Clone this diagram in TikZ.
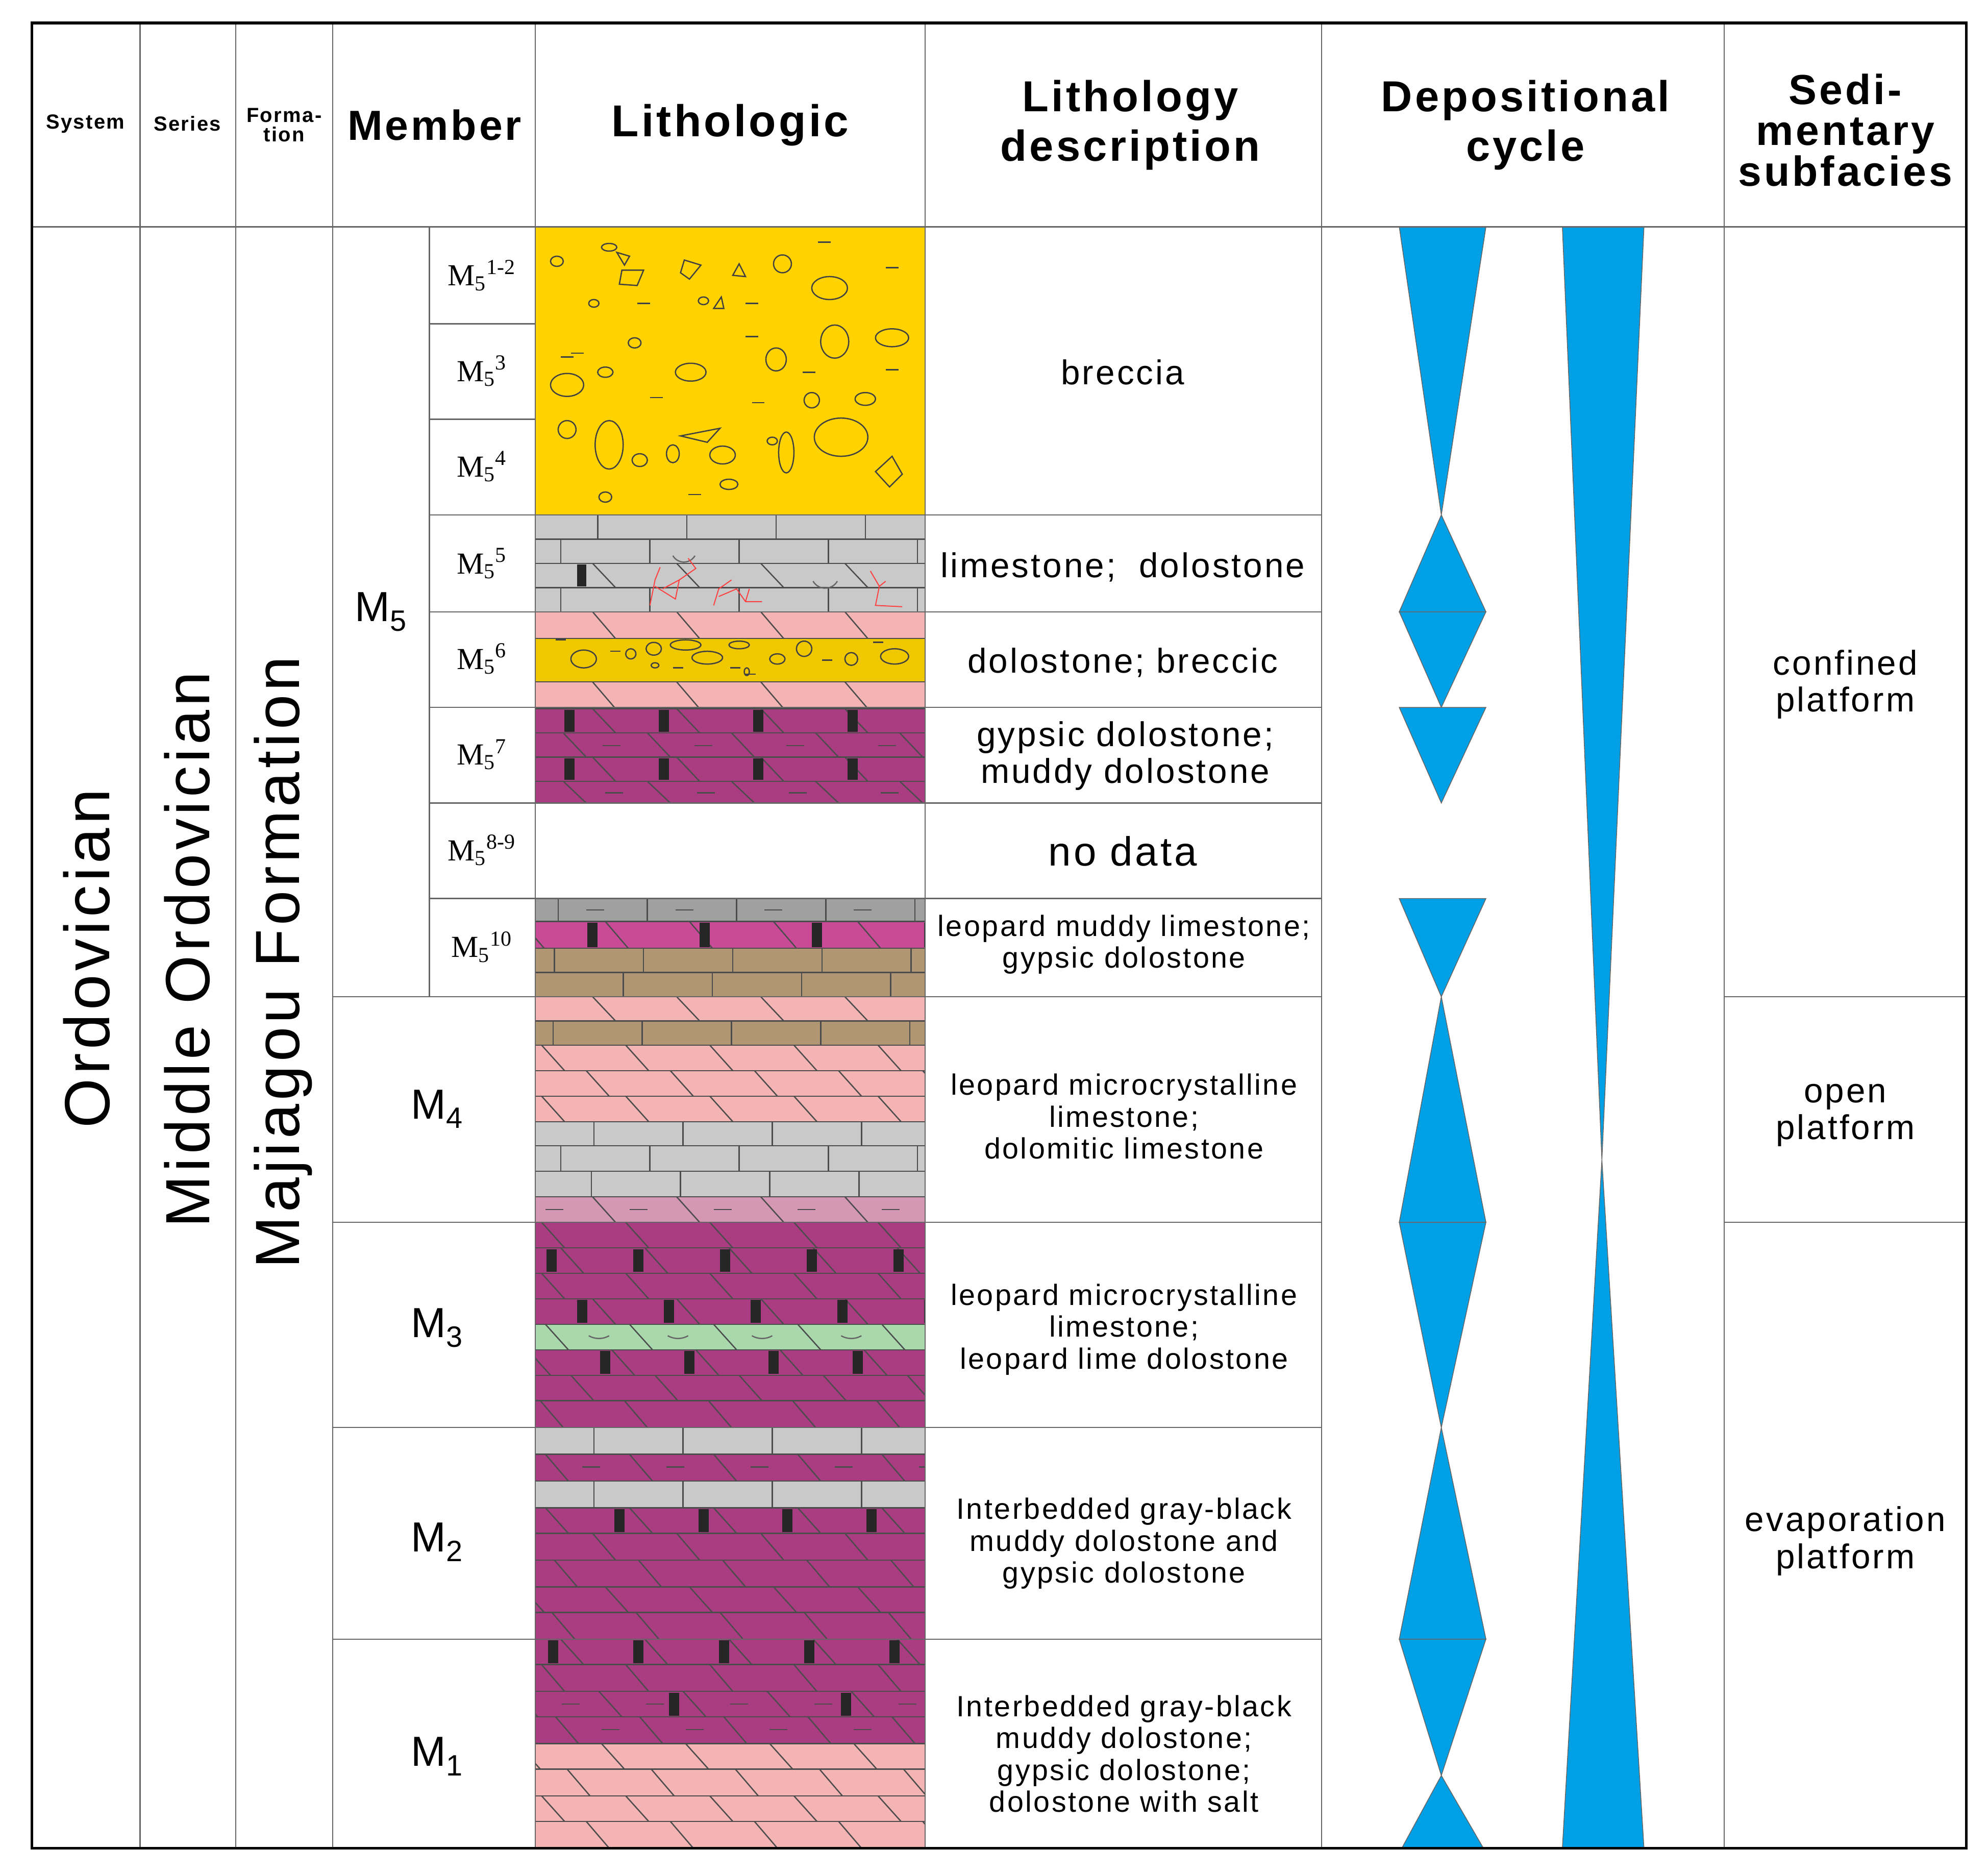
\documentclass[tikz,border=0pt]{standalone}
\usepackage{fontspec}
\setmainfont{Liberation Sans}[LetterSpace=6]
\newfontfamily\serf{Liberation Serif}
\usetikzlibrary{calc}
\definecolor{blu}{HTML}{00A0E6}
\definecolor{yel}{HTML}{FFD200}
\definecolor{yel2}{HTML}{F0C800}
\definecolor{mag}{HTML}{AA3C82}
\definecolor{mag2}{HTML}{C94A96}
\definecolor{pnk}{HTML}{F4B4B4}
\definecolor{gry}{HTML}{C9C9C9}
\definecolor{dgry}{HTML}{A0A0A0}
\definecolor{tan}{HTML}{B09672}
\definecolor{mauv}{HTML}{D498B4}
\definecolor{grn}{HTML}{A8D8AC}
\newcommand\fs[1]{\fontsize{#1}{\the\numexpr#1*6/5\relax}\selectfont}
\newcommand\Lrow[4]{\fill[#3] (420,#1) rectangle (726,#2);
 \begin{scope}\clip (420,#1) rectangle (726,#2);
 \foreach \k [evaluate=\k as \xx using 420+#4+70*\k] in {-1,...,5}{\draw[lit] (\xx,#1)--(\xx,#2);}
 \end{scope}\draw[lit] (420,#1)--(726,#1) (420,#2)--(726,#2);}
\newcommand\Drow[4]{\fill[#3] (420,#1) rectangle (726,#2);
 \begin{scope}\clip (420,#1) rectangle (726,#2);
 \foreach \k [evaluate=\k as \xx using 420+#4+66*\k] in {-1,...,5}{\draw[lit] (\xx,#1)--(\xx+18,#2);}
 \end{scope}\draw[lit] (420,#1)--(726,#1) (420,#2)--(726,#2);}
\newcommand\Marks[4]{\begin{scope}\clip (420,#1) rectangle (726,#2);
 \foreach \k [evaluate=\k as \xx using 420+#3+#4*\k] in {0,...,5}{\fill[black!85] (\xx-4,#1+1) rectangle (\xx+4,#2-1);}\end{scope}}
\newcommand\Dash[3]{\begin{scope}\clip (420,#1-10) rectangle (726,#1+10);
 \foreach \k [evaluate=\k as \xx using 420+#2+#3*\k] in {0,...,5}{\draw[lit] (\xx-7,#1)--(\xx+7,#1);}\end{scope}}
\newcommand\Msub[1]{{\serf M}\textsubscript{\serf 5}\textsuperscript{\serf #1}}
\tikzset{lit/.style={draw=black!70,line width=1pt},
 grid/.style={draw=black!60,line width=1pt},
 cyc/.style={fill=blu,draw=black!60,line width=0.6pt},
 cl/.style={draw=black!75,line width=1pt},
 hd/.style={font=\bfseries,align=center},
 ds/.style={align=center,font=\fs{23}}}
\begin{document}
\begin{tikzpicture}[x=1pt,y=-1pt]
\useasboundingbox (0,0) rectangle (1560,1470);
\fill[white] (0,0) rectangle (1560,1470);
% ---------- breccia
\fill[yel] (420,178) rectangle (726,404);
\foreach \x/\y/\a/\b in {437/205/5/4,478/194/6/3,614/207/7/7,651/226/14/9,445/302/13/9,475/292/6/4,498/269/5/4,542/292/12/7,609/282/8/9,655/268/11/13,700/265/13/7,445/337/7/7,478/349/11/19,502/361/6/5,528/356/5/7,567/357/10/7,617/355/6/16,660/343/21/15,637/314/6/6,679/313/8/5,572/380/7/4,475/390/5/4,552/236/4/3,606/346/4/3,466/238/4/3}
 \draw[cl] (\x,\y) ellipse[x radius=\a,y radius=\b];
\draw[cl] (488,212)--(505,212)--(500,224)--(486,223)--cycle;
\draw[cl] (537,204)--(550,208)--(541,219)--(534,214)--cycle;
\draw[cl] (575,216)--(580,207)--(585,217)--cycle;
\draw[cl] (560,242)--(566,233)--(568,242)--cycle;
\draw[cl] (687,370)--(700,358)--(708,372)--(698,382)--cycle;
\draw[cl] (534,342)--(565,336)--(555,347)--cycle;
\draw[cl] (484,198)--(494,201)--(490,208)--cycle;
\foreach \x/\y in {647/190,700/210,505/238,590/238,453/277,515/312,595/316,635/292,700/290,545/388,590/264,445/280}
 \draw[cl] (\x-5,\y)--(\x+5,\y);
% ---------- M5 layers
\Lrow{404}{423}{gry}{49}
\Lrow{423}{442}{gry}{20}
\Drow{442}{461}{gry}{45}
\Lrow{461}{480}{gry}{20}
\fill[black!85] (453,443) rectangle (460,460);
\draw[lit,black!60] (528,436) arc[start angle=150,end angle=30,radius=10];
\draw[lit,black!60] (638,456) arc[start angle=150,end angle=30,radius=11];
\draw[red!75,line width=0.8pt] (510,475)--(514,455)--(518,445) (514,460)--(530,470)--(533,455)--(520,462) (533,455)--(546,446)--(540,438);
\draw[red!75,line width=0.8pt] (560,475)--(564,462)--(574,455) (564,468)--(578,462)--(585,472)--(598,472) (585,472)--(588,462);
\draw[red!75,line width=0.8pt] (683,448)--(690,460)--(687,475)--(708,476) (690,460)--(695,456);
\Drow{480}{501}{pnk}{45}
\fill[yel2] (420,501) rectangle (726,535);\draw[lit] (420,501)--(726,501)(420,535)--(726,535);
\foreach \x/\y/\a/\b in {458/517/10/7,495/513/4/4,513/509/6/5,538/506/12/4,555/516/12/5,580/506/8/3,610/517/6/4,631/509/6/6,668/517/5/5,702/515/11/6,514/522/3/2,586/527/2/3}
 \draw[cl] (\x,\y) ellipse[x radius=\a,y radius=\b];
\foreach \x/\y in {440/502,483/511,532/524,577/524,589/529,649/518,689/504}
 \draw[cl] (\x-4,\y)--(\x+4,\y);
\Drow{535}{556}{pnk}{45}
\Drow{556}{575}{mag}{45}\Marks{556}{575}{27}{74}
\Drow{575}{594}{mag}{22}\Dash{585}{60}{72}
\Drow{594}{613}{mag}{45}\Marks{594}{613}{27}{74}
\Drow{613}{630}{mag}{22}\Dash{622}{62}{72}
\Lrow{705}{723}{dgry}{18}\Dash{714}{47}{70}
\Drow{723}{744}{mag2}{55}\Marks{723}{744}{45}{88}
\Lrow{744}{763}{tan}{15}
\Lrow{763}{782}{tan}{69}
% ---------- M4
\Drow{782}{801}{pnk}{45}
\Lrow{801}{820}{tan}{14}
\Drow{820}{840}{pnk}{5}
\Drow{840}{860}{pnk}{40}
\Drow{860}{880}{pnk}{5}
\Lrow{880}{899}{gry}{46}
\Lrow{899}{919}{gry}{20}
\Lrow{919}{939}{gry}{44}
\Drow{939}{959}{mauv}{45}\Dash{949}{15}{66}
% ---------- M3
\Drow{959}{979}{mag}{5}
\Drow{979}{999}{mag}{20}\Marks{979}{999}{13}{68}
\Drow{999}{1019}{mag}{5}
\Drow{1019}{1039}{mag}{45}\Marks{1019}{1039}{37}{68}
\Drow{1039}{1059}{grn}{8}
\foreach \xx in {470,532,598,668}{\draw[lit,black!60] (\xx-8,1048) arc[start angle=120,end angle=60,radius=16];}
\Drow{1059}{1079}{mag}{60}\Marks{1059}{1079}{55}{66}
\Drow{1079}{1099}{mag}{28}
\Drow{1099}{1120}{mag}{70}
% ---------- M2
\Lrow{1120}{1141}{gry}{46}
\Drow{1141}{1162}{mag}{8}\Dash{1151}{44}{66}
\Lrow{1162}{1183}{gry}{46}
\Drow{1183}{1203}{mag}{8}\Marks{1183}{1203}{66}{66}
\Drow{1203}{1224}{mag}{45}
\Drow{1224}{1245}{mag}{15}
\Drow{1245}{1265}{mag}{55}
\Drow{1265}{1286}{mag}{13}
% ---------- M1
\Drow{1286}{1306}{mag}{20}\Marks{1286}{1306}{14}{67}
\Drow{1306}{1327}{mag}{5}
\Drow{1327}{1347}{mag}{50}\Marks{1327}{1347}{109}{135}\Dash{1337}{28}{66}
\Drow{1347}{1368}{mag}{16}\Dash{1357}{59}{66}
\Drow{1368}{1388}{pnk}{52}
\Drow{1388}{1409}{pnk}{25}
\Drow{1409}{1429}{pnk}{5}
\Drow{1429}{1450}{pnk}{40}
\draw[grid] (420,178) rectangle (726,1450);
% ---------- depositional cycle
\draw[cyc] (1098,178)--(1166,178)--(1131,404)--cycle;
\draw[cyc] (1131,404)--(1166,480)--(1098,480)--cycle;
\draw[cyc] (1098,480)--(1166,480)--(1131,555)--cycle;
\draw[cyc] (1098,555)--(1166,555)--(1131,630)--cycle;
\draw[cyc] (1098,705)--(1166,705)--(1131,782)--cycle;
\draw[cyc] (1131,782)--(1166,959)--(1098,959)--cycle;
\draw[cyc] (1098,959)--(1166,959)--(1131,1120)--cycle;
\draw[cyc] (1131,1120)--(1166,1286)--(1098,1286)--cycle;
\draw[cyc] (1098,1286)--(1166,1286)--(1131,1393)--cycle;
\draw[cyc] (1131,1393)--(1164,1450)--(1100,1450)--cycle;
\draw[cyc] (1226,178)--(1290,178)--(1257,910)--(1290,1450)--(1226,1450)--(1257,910)--cycle;
% ---------- grid
\foreach \x in {110,185,261,420,726,1037,1353} \draw[grid] (\x,18)--(\x,1450);
\draw[grid] (337,178)--(337,782);
\draw[grid] (25,178)--(1543,178);
\foreach \y in {254,329} \draw[grid] (337,\y)--(420,\y);
\foreach \y in {404,480,555,630,705} \draw[grid] (337,\y)--(1037,\y);
\draw[grid] (261,782)--(1037,782) (1353,782)--(1543,782);
\draw[grid] (261,959)--(1037,959) (1353,959)--(1543,959);
\foreach \y in {1120,1286} \draw[grid] (261,\y)--(1037,\y);
\draw[black,line width=2.2pt] (25,18) rectangle (1543,1450);
% ---------- header
\node[hd,font=\bfseries\fs{16}] (h1) at (67,97) {System};
\node[hd,font=\bfseries\fs{16}] (h2) at (147,97) {Series};
\node[hd,font=\bfseries\fs{16}] (h3) at (223,98) {Forma-\\[-4pt]tion};
\node[hd,font=\bfseries\fs{33}] (h4) at (341,98) {Member};
\node[hd,font=\bfseries\fs{35}] (h5) at (573,98) {Lithologic};
\node[hd,font=\bfseries\fs{34}] (h6) at (887,98) {Lithology\\[-2pt]description};
\node[hd,font=\bfseries\fs{34}] (h7) at (1197,98) {Depositional\\[-2pt]cycle};
\node[hd,font=\bfseries\fs{33}] (h8) at (1448,102) {Sedi-\\[-8pt]mentary\\[-8pt]subfacies};
% ---------- stratigraphy
\node[rotate=90,font=\fs{50}] (s1) at (68,752) {Ordovician};
\node[rotate=90,font=\fs{49}] (s2) at (147,745) {Middle Ordovician};
\node[rotate=90,font=\fs{49}] (s3) at (222,755) {Majiagou Formation};
\node[font=\fs{33}] (m5) at (299,480) {M\textsubscript{5}};
\node[font=\fs{33}] (m4) at (343,870) {M\textsubscript{4}};
\node[font=\fs{33}] (m3) at (343,1042) {M\textsubscript{3}};
\node[font=\fs{33}] (m2) at (343,1210) {M\textsubscript{2}};
\node[font=\fs{33}] (m1) at (343,1378) {M\textsubscript{1}};
\foreach \y/\s [count=\i] in {216/1-2,291/3,366/4,442/5,517/6,592/7,667/8-9,743/10}
 \node[font=\fs{24}] (sub\i) at (378,\y) {\Msub{\s}};
% ---------- descriptions
\node[ds,font=\fs{27}] (d1) at (881,292) {breccia};
\node[ds,font=\fs{27}] (d2) at (881,445) {limestone;\ \ dolostone};
\node[ds,font=\fs{27}] (d3) at (881,520) {dolostone; breccic};
\node[ds,font=\fs{27}] (d4) at (883,593) {gypsic dolostone;\\[-3pt]muddy dolostone};
\node[ds,font=\fs{32}] (d5) at (881,668) {no data};
\node[ds] (d6) at (882,741) {leopard muddy limestone;\\[-3pt]gypsic dolostone};
\node[ds] (d7) at (882,876) {leopard microcrystalline\\[-3pt]limestone;\\[-3pt]dolomitic limestone};
\node[ds] (d8) at (882,1043) {leopard microcrystalline\\[-3pt]limestone;\\[-3pt]leopard lime dolostone};
\node[ds] (d9) at (882,1211) {Interbedded gray-black\\[-3pt]muddy dolostone and\\[-3pt]gypsic dolostone};
\node[ds] (d10) at (882,1376) {Interbedded gray-black\\[-3pt]muddy dolostone;\\[-3pt]gypsic dolostone;\\[-3pt]dolostone with salt};
\node[ds,font=\fs{27}] (f1) at (1448,537) {confined\\[-3pt]platform};
\node[ds,font=\fs{27}] (f2) at (1448,875) {open\\[-3pt]platform};
\node[ds,font=\fs{27}] (f3) at (1448,1209) {evaporation\\[-3pt]platform};
\end{tikzpicture}
\end{document}
